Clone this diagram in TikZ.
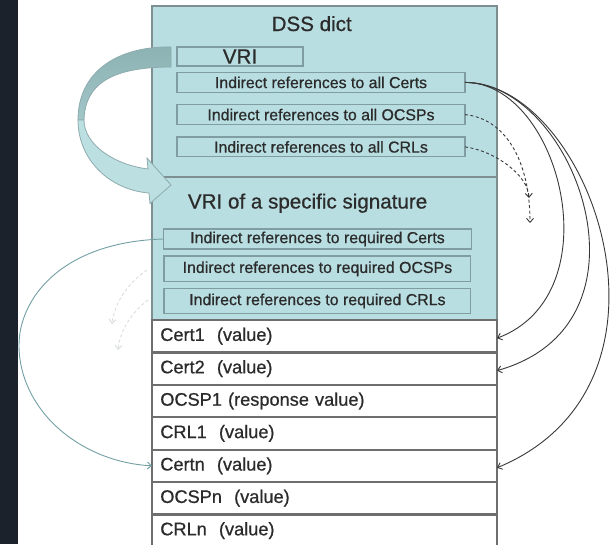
\documentclass[tikz,border=0pt]{standalone}
\usepackage{fontspec}
\setmainfont{Liberation Sans}[BoldFont=Liberation Sans,BoldFeatures={FakeBold=0.7}]
\usetikzlibrary{arrows.meta}
\definecolor{strip}{HTML}{1B222C}
\definecolor{boxfill}{HTML}{B9DEE1}
\definecolor{boxedge}{HTML}{809EA1}
\definecolor{mainedge}{HTML}{7E8F91}
\definecolor{rowedge}{HTML}{6E6E6E}
\definecolor{txt}{HTML}{2B2B2B}
\definecolor{arrdark}{HTML}{8CB2B4}
\definecolor{arrdarkb}{HTML}{A3C6C8}
\definecolor{arrlight}{HTML}{BCDFE2}
\definecolor{arredge}{HTML}{8EABAD}
\definecolor{tealline}{HTML}{73A0A5}
\definecolor{faintline}{HTML}{D8DDDD}
\begin{document}
\begin{tikzpicture}[x=1pt,y=-1pt,
  every node/.style={inner sep=0pt,outer sep=0pt,text=txt},
  section/.style={draw=mainedge,line width=1.3pt,fill=boxfill,rectangle,minimum width=345pt},
  refbox/.style={draw=boxedge,line width=1.2pt,fill=boxfill,rectangle,font=\fontsize{15.9}{18}\selectfont\bfseries},
  rowbox/.style={draw=rowedge,line width=2.2pt,fill=white,rectangle,minimum width=345pt,minimum height=32.4pt,inner xsep=8.3pt,text width=328.4pt,align=left,font=\fontsize{18.2}{21}\selectfont\bfseries},
  titletext/.style={font=\fontsize{20.6}{24}\selectfont\bfseries,anchor=base},
  conn/.style={draw=black!78,line width=0.9pt,-{Straight Barb[length=4pt,width=7pt]}},
  dconn/.style={conn,dash pattern=on 3pt off 2.5pt},
  tconn/.style={draw=tealline,line width=0.9pt,-{Straight Barb[length=4pt,width=7pt]}},
  fconn/.style={draw=faintline,line width=0.9pt,dash pattern=on 3pt off 2.5pt,-{Straight Barb[length=4pt,width=7pt]}},
  arrowpart/.style={draw=arredge,line width=0.8pt}
]
\useasboundingbox (0,0) rectangle (610,544);
\clip (0,0) rectangle (610,544);
\fill[white] (0,0) rectangle (610,544);
\fill[strip] (0,0) rectangle (17.5,544);

% sections
\node[section,minimum height=171pt] (dss) at (324.5,91.5) {};
\node[section,minimum height=143pt] (vrisec) at (324.5,248.5) {};
\node[titletext] (dsstitle) at (311.7,31) {DSS dict};
\node[titletext] (vrititle) at (307.6,208.5) {VRI of a specific signature};

% reference boxes
\node[refbox,minimum width=126pt,minimum height=19pt,font=\fontsize{20.6}{24}\selectfont\bfseries] (vri) at (240,56.5) {VRI};
\node[refbox,minimum width=288pt,minimum height=19.8pt] (allcerts) at (321,82.4) {Indirect references to all Certs};
\node[refbox,minimum width=288pt,minimum height=20.2pt] (allocsps) at (321,114.6) {Indirect references to all OCSPs};
\node[refbox,minimum width=288pt,minimum height=19.8pt] (allcrls) at (321,146.9) {Indirect references to all CRLs};
\node[refbox,minimum width=308pt,minimum height=20pt] (reqcerts) at (317.5,239) {Indirect references to required Certs};
\node[refbox,minimum width=306.8pt,minimum height=25.5pt] (reqocsps) at (317.4,268.8) {Indirect references to required OCSPs};
\node[refbox,minimum width=306.8pt,minimum height=25pt] (reqcrls) at (317.4,301) {Indirect references to required CRLs};

% value rows
\node[rowbox] (cert1) at (324.5,336.2) {Cert1\ \ (value)};
\node[rowbox] (cert2) at (324.5,368.6) {Cert2\ \ (value)};
\node[rowbox] (ocsp1) at (324.5,401.0) {OCSP1 (response value)};
\node[rowbox] (crl1) at (324.5,433.4) {CRL1\ \ (value)};
\node[rowbox] (certn) at (324.5,465.8) {Certn\ \ (value)};
\node[rowbox] (ocspn) at (324.5,498.2) {OCSPn\ \ (value)};
\node[rowbox] (crln) at (324.5,530.6) {CRLn\ \ (value)};

% big curved arrow
\draw[arrowpart,top color=arrdark,bottom color=arrdarkb] (171,47) .. controls (120,46) and (78,70) .. (78,120)
  -- (84,120) .. controls (85,85) and (110,67) .. (171,67) -- cycle;
\filldraw[arrowpart,fill=arrlight] (78,120) .. controls (78,160) and (110,190) .. (149,193)
  -- (150,203.5) -- (171,185) -- (147,158) -- (148,169)
  .. controls (115,165) and (84,145) .. (84,120) -- cycle;

% right connectors
\draw[conn] (allcerts.east) .. controls +(95,0) and +(117,-44) .. ([yshift=-2pt]cert1.east);
\draw[conn] (allcerts.east) .. controls +(109,0) and +(167,-47) .. ([yshift=-2pt]cert2.east);
\draw[conn] (allcerts.east) .. controls +(124,0) and +(202,-84) .. ([yshift=-2pt]certn.east);

\coordinate (ocspend) at (530,223);
\coordinate (crlend) at (529,198);
\draw[dconn] (allocsps.east) .. controls +(40,4) and +(0,-63) .. (ocspend);
\draw[dconn] (allcrls.east) .. controls +(30,4) and +(-1,-23) .. (crlend);

% left connector
\draw[tconn] (reqcerts.west) .. controls (60,242) and (19,300) .. (19,345)
  .. controls (19,410) and (80,462) .. (certn.west);

% faint dashed ghosts
\coordinate (fa1) at (147,270);
\coordinate (fa2) at (112,324);
\coordinate (fb1) at (148,300);
\coordinate (fb2) at (118,350);
\draw[fconn] (fa1) .. controls (130,282) and (115,300) .. (fa2);
\draw[fconn] (fb1) .. controls (132,312) and (120,330) .. (fb2);
\end{tikzpicture}
\end{document}
